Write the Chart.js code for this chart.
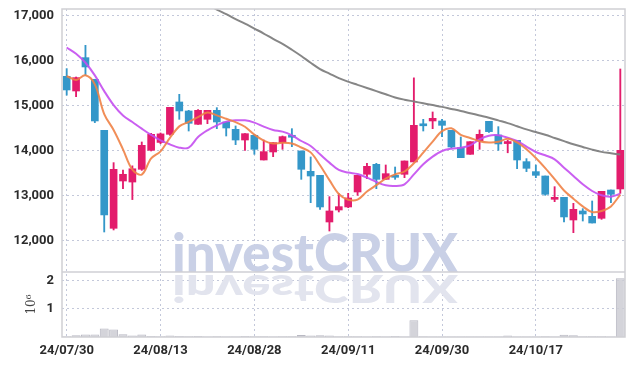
<!DOCTYPE html>
<html>
<head>
<meta charset="utf-8">
<script src="https://cdn.jsdelivr.net/npm/chart.js@4.4.1/dist/chart.umd.min.js"></script>
<style>
html, body { margin:0; padding:0; background:#fff; }
#wrap { width:634px; height:366px; }
</style>
</head>
<body>
<div id="wrap"><canvas id="mycanvas"></canvas></div>
<script>
// trading days
var dates = ["24/07/30","24/07/31","24/08/01","24/08/02","24/08/05","24/08/06","24/08/07","24/08/08","24/08/09","24/08/12",
  "24/08/13","24/08/14","24/08/16","24/08/19","24/08/20","24/08/21","24/08/22","24/08/23","24/08/26","24/08/27",
  "24/08/28","24/08/29","24/08/30","24/09/02","24/09/03","24/09/04","24/09/05","24/09/06","24/09/09","24/09/10",
  "24/09/11","24/09/12","24/09/13","24/09/19","24/09/20","24/09/23","24/09/24","24/09/25","24/09/26","24/09/27",
  "24/09/30","24/10/02","24/10/04","24/10/07","24/10/08","24/10/10","24/10/11","24/10/14","24/10/15","24/10/16",
  "24/10/17","24/10/18","24/10/21","24/10/22","24/10/23","24/10/24","24/10/25","24/10/28","24/10/29","24/10/30"];

var openP  = [15659,15333,16074,15593,14459,12282,13333,13310,13593,14015,14190,14370,15089,14889,14593,14704,14904,14644,14481,14244,
              14348,13800,13978,14185,14319,14000,13548,13459,12422,12689,12756,13089,13482,13704,13370,13430,13482,13756,14570,14667,
              14667,14459,14074,13926,14222,14659,14356,14165,14237,13763,13541,13444,12926,12970,12467,12667,12548,12504,13133,13156];
var highP  = [15830,15644,16348,15593,14459,13741,13578,13670,14200,14393,14400,14970,15259,14904,14920,14904,14963,14644,14556,14385,
              14370,14244,14185,14333,14496,14000,13867,13459,12985,13052,13059,13459,13726,13726,13689,13644,13778,15625,14704,14867,
              14704,14459,14311,14207,14467,14659,14541,14240,14237,13830,13689,13444,13207,12970,12837,12719,12889,13104,13133,15822];
var lowP   = [15240,15207,15681,14630,12200,12245,13163,12920,13570,14000,14160,14348,14704,14444,14590,14607,14496,14333,14141,14015,
              13926,13800,13874,14037,14096,13370,12852,12704,12222,12645,12740,13015,13385,13163,13370,13370,13407,13756,14444,14496,
              14319,14074,13852,13926,14037,14410,14015,13960,13607,13541,13407,13015,12874,12422,12185,12444,12400,12481,12852,13059];
var closeP = [15356,15630,15867,14667,12578,13593,13482,13605,14126,14370,14380,14970,14889,14615,14904,14904,14644,14511,14244,14385,
              14037,13985,14185,14319,14305,13593,13444,12756,12667,12763,12956,13459,13659,13370,13496,13415,13778,14570,14560,14726,
              14570,14089,13852,14207,14370,14430,14156,14190,13800,13615,13459,13037,12970,12534,12704,12600,12400,13104,13037,14015];

var ma5  = [15667,15578,15681,15481,14820,14467,14037,13585,13477,13835,13993,14290,14547,14645,14752,14856,14791,14716,14641,14538,
            14364,14232,14167,14182,14166,14077,13969,13683,13353,13045,12917,12920,13101,13241,13388,13480,13544,13726,13964,14210,
            14441,14503,14359,14289,14218,14190,14203,14271,14189,14038,13844,13620,13376,13123,12941,12769,12642,12668,12769,13031];
var ma20 = [16300,16160,15960,15680,15330,15020,14790,14644,14496,14356,14237,14148,14074,14074,14311,14460,14570,14652,14681,14681,
            14630,14541,14467,14430,14348,14222,14111,13926,13741,13578,13520,13489,13407,13311,13237,13222,13259,13481,13704,13874,
            14000,14052,14074,14126,14259,14340,14348,14296,14222,14096,13978,13904,13815,13630,13444,13259,13111,13015,12985,13052];
var ma60 = [null,null,null,null,null,null,null,null,null,null,null,null,null,null,null,
            17260,17140,17040,16930,16830,16720,16610,16490,16380,16250,16110,15960,15820,15720,15620,15540,15470,15400,15330,15260,
            15190,15140,15100,15060,15020,14980,14935,14890,14840,14790,14740,14680,14620,14550,14480,14420,14360,14290,14220,14150,
            14090,14030,13980,13950,13920];

var volume = [30000,60000,90000,90000,300000,270000,100000,50000,90000,40000,30000,50000,40000,25000,35000,20000,25000,15000,20000,40000,
              30000,25000,20000,30000,25000,70000,55000,60000,50000,30000,25000,30000,20000,25000,15000,35000,20000,600000,30000,20000,
              15000,20000,15000,20000,15000,20000,15000,50000,20000,15000,20000,25000,15000,80000,60000,30000,25000,30000,20000,2100000];

var priceTicks = [12000,13000,14000,15000,16000,17000];
var volTicks = [1000000,2000000];

var UP = '#E31C6C', DOWN = '#3497C9';
var GRID = '#c3c8da';

var bodies = [], wicks = [], candleCol = [];
for (var i = 0; i < dates.length; i++) {
  bodies.push([openP[i], closeP[i]]);
  wicks.push([lowP[i], highP[i]]);
  candleCol.push(closeP[i] >= openP[i] ? UP : DOWN);
}

var tickFont = { family: 'Roboto', size: 13, weight: 'bold' };

var watermark = {
  id: 'watermark',
  beforeDatasetsDraw: function(chart) {
    var ctx = chart.ctx;
    var base = chart.scales.y.bottom;
    ctx.save();
    ctx.font = '900 53px Lato, "Liberation Sans", sans-serif';
    ctx.textAlign = 'center';
    ctx.textBaseline = 'alphabetic';
    var w = ctx.measureText('investCRUX').width;
    ctx.translate(315, base);
    ctx.scale(286 / w, 1);
    ctx.fillStyle = '#c9d0e6';
    ctx.fillText('investCRUX', 0, 0);
    ctx.scale(1, -0.72);
    ctx.fillStyle = '#e2e4ee';
    ctx.fillText('investCRUX', 0, -4);
    ctx.restore();
  }
};

var frame = {
  id: 'frame',
  afterDatasetsDraw: function(chart) {
    var ctx = chart.ctx, a = chart.chartArea;
    var sep = chart.scales.y.bottom;
    ctx.save();
    ctx.strokeStyle = '#cfcfd4';
    ctx.lineWidth = 1.5;
    ctx.strokeRect(a.left, a.top, a.right - a.left, a.bottom - a.top);
    ctx.beginPath();
    ctx.moveTo(a.left, sep);
    ctx.lineTo(a.right, sep);
    ctx.stroke();
    ctx.restore();
  }
};

function fixY(s) { s.width = 62; s.paddingTop = 0; s.paddingBottom = 0; }

var ctx = document.getElementById('mycanvas');
var chart = new Chart(ctx, {
  type: 'bar',
  data: {
    labels: dates,
    datasets: [
      { type: 'line', data: ma5, yAxisID: 'y', borderColor: 'rgba(240,130,70,0.9)', borderWidth: 2, pointRadius: 0, tension: 0.35, order: 0 },
      { type: 'line', data: ma20, yAxisID: 'y', borderColor: 'rgba(196,78,240,0.9)', borderWidth: 2, pointRadius: 0, tension: 0.35, order: 0 },
      { type: 'line', data: ma60, yAxisID: 'y', borderColor: 'rgba(128,128,128,0.95)', borderWidth: 2, pointRadius: 0, tension: 0.35, order: 0 },
      { data: bodies, yAxisID: 'y', backgroundColor: candleCol, barThickness: 7, minBarLength: 2, grouped: false, order: 1 },
      { data: wicks, yAxisID: 'y', backgroundColor: candleCol, barThickness: 1.2, grouped: false, order: 2 },
      { data: volume, yAxisID: 'yv', backgroundColor: 'rgba(205,205,212,0.85)', borderColor: 'rgba(185,185,195,1)', borderWidth: 1,
        barPercentage: 0.95, categoryPercentage: 1, grouped: false, order: 3 }
    ]
  },
  options: {
    responsive: true,
    maintainAspectRatio: false,
    devicePixelRatio: 1,
    animation: false,
    layout: { padding: { top: 9, right: 9, left: 0, bottom: 0 } },
    plugins: { legend: { display: false }, tooltip: { enabled: false } },
    scales: {
      x: {
        type: 'category',
        offset: true,
        grid: { offset: false, color: GRID, drawTicks: false },
        border: { display: false, dash: [2, 3] },
        afterBuildTicks: function(s) { s.ticks = s.ticks.filter(function(t) { return t.value % 10 === 0; }); },
        ticks: { autoSkip: false, maxRotation: 0, padding: 6, color: '#2b2b2b', font: tickFont },
        afterFit: function(s) { s.height = 29; }
      },
      yv: {
        type: 'linear', position: 'left', stack: 'panels', stackWeight: 65,
        min: 0, max: 2320000,
        grid: { color: GRID, drawTicks: false },
        border: { display: false, dash: [2, 3] },
        afterBuildTicks: function(s) { s.ticks = volTicks.map(function(v) { return { value: v }; }); },
        ticks: { padding: 8, color: '#2b2b2b', font: tickFont,
          callback: function(v) { return String(v / 1000000); } },
        title: { display: true, text: '10\u2076', color: '#444', font: { family: 'DejaVu Serif', size: 12 }, padding: { top: 25, bottom: 0 } },
        afterFit: fixY
      },
      y: {
        type: 'linear', position: 'left', stack: 'panels', stackWeight: 263,
        min: 11311, max: 17155,
        grid: { color: GRID, drawTicks: false },
        border: { display: false, dash: [2, 3] },
        afterBuildTicks: function(s) { s.ticks = priceTicks.map(function(v) { return { value: v }; }); },
        ticks: { padding: 8, color: '#2b2b2b', font: tickFont,
          callback: function(v) { return Number(v).toLocaleString('en-US'); } },
        afterFit: fixY
      }
    }
  },
  plugins: [watermark, frame]
});
</script>
</body>
</html>
